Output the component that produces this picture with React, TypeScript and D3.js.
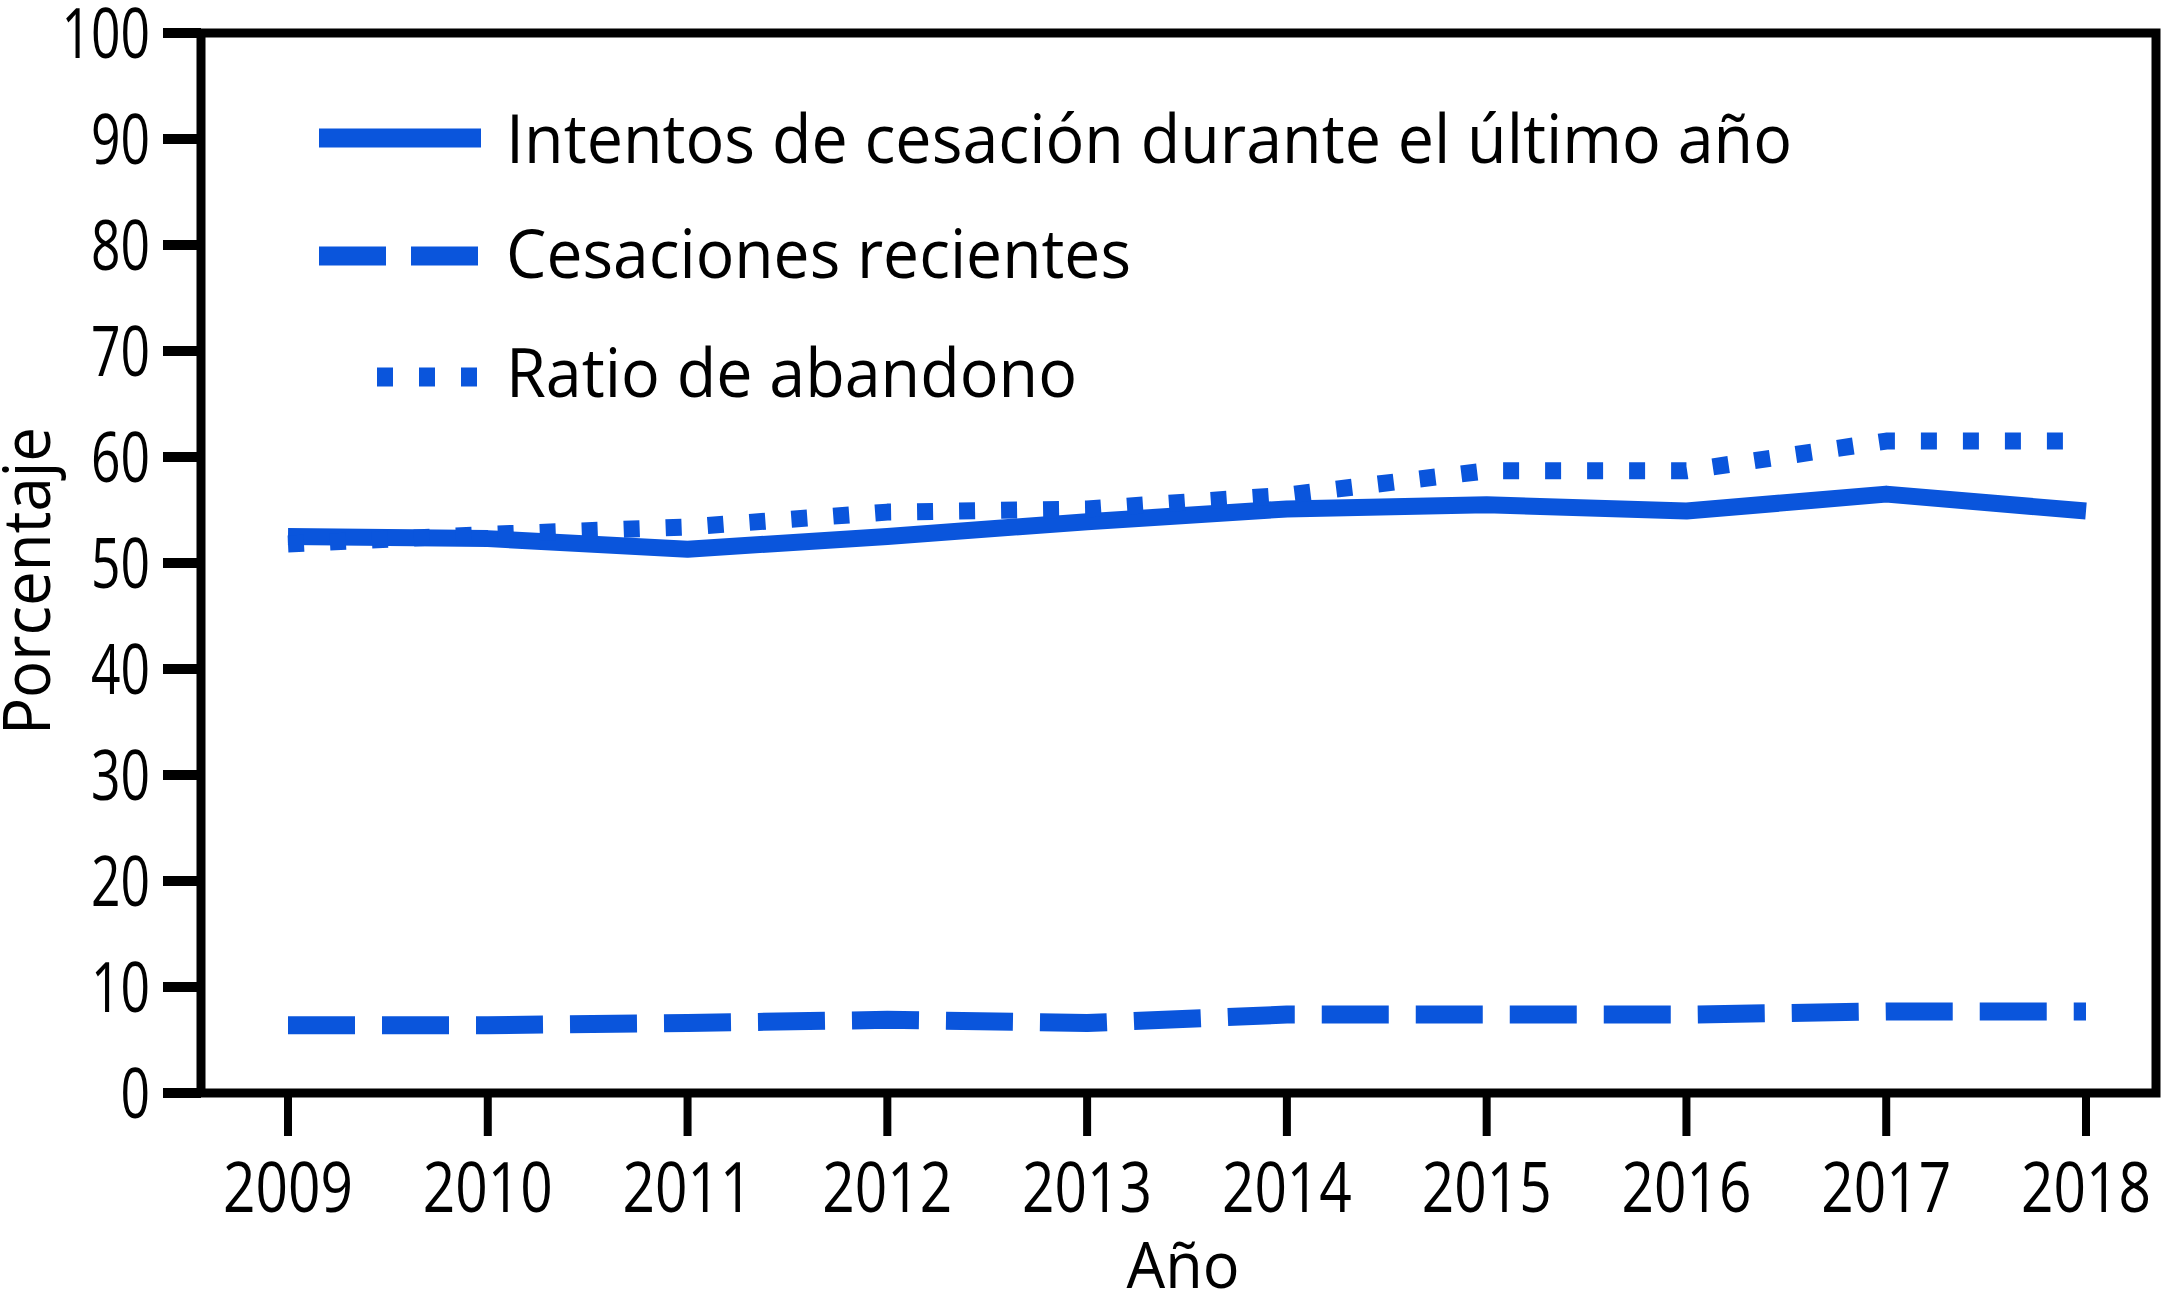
import React from "react";
import * as d3 from "d3";

const years = [2009, 2010, 2011, 2012, 2013, 2014, 2015, 2016, 2017, 2018];
const intentos = [52.5, 52.3, 51.3, 52.5, 53.9, 55.1, 55.5, 54.9, 56.5, 54.9];
const cesaciones = [6.4, 6.4, 6.6, 6.9, 6.6, 7.4, 7.4, 7.4, 7.7, 7.7];
const ratio = [51.8, 52.7, 53.4, 54.8, 55.1, 56.4, 58.7, 58.7, 61.5, 61.5];
const yTicks = [0, 10, 20, 30, 40, 50, 60, 70, 80, 90, 100];
const legendLabels = [
  "Intentos de cesación durante el último año",
  "Cesaciones recientes",
  "Ratio de abandono",
];
const legendWidths = [1286, 625, 571];
const yTitle = "Porcentaje";
const xTitle = "Año";

const W = 2167;
const H = 1295;
const BLUE = "#0a55dc";
const FONT = "'Open Sans', 'Noto Sans', sans-serif";

export default function App() {
  const x = d3.scaleLinear().domain([2009, 2018]).range([288, 2086]);
  const y = d3.scaleLinear().domain([0, 100]).range([1093, 33]);
  const left = 201;
  const right = 2156;
  const line = d3
    .line<number>()
    .x((_, i) => x(years[i]))
    .y((d) => y(d))
    .curve(d3.curveLinear);

  const series = [
    { data: intentos, dash: undefined as string | undefined, width: 17 },
    { data: cesaciones, dash: "67 27", width: 18 },
    { data: ratio, dash: "16 26", width: 17 },
  ];

  const legendRows = [
    { y: 138, x1: 319, x2: 481, dash: undefined as string | undefined, base: 163 },
    { y: 256, x1: 319, x2: 478, dash: "67 25", base: 278 },
    { y: 377, x1: 377, x2: 478, dash: "16 26", base: 397 },
  ];

  return (
    <svg
      width={W}
      height={H}
      style={{ position: "absolute", left: 0, top: 0, background: "#fff" }}
      fontFamily={FONT}
    >
      <rect x={0} y={0} width={W} height={H} fill="#fff" />
      {/* frame */}
      <rect
        x={left}
        y={y(100)}
        width={right - left}
        height={y(0) - y(100)}
        fill="none"
        stroke="#000"
        strokeWidth={9}
      />
      {/* y ticks */}
      {yTicks.map((t) => (
        <g key={"y" + t}>
          <line x1={163} x2={left} y1={y(t)} y2={y(t)} stroke="#000" strokeWidth={10} />
          <text
            x={150}
            y={y(t) + 25}
            textAnchor="end"
            fontSize={70}
            textLength={String(t).length * 29.5}
            lengthAdjust="spacingAndGlyphs"
            fill="#000"
          >
            {t}
          </text>
        </g>
      ))}
      {/* x ticks */}
      {years.map((yr) => (
        <g key={"x" + yr}>
          <line x1={x(yr)} x2={x(yr)} y1={y(0)} y2={1136} stroke="#000" strokeWidth={8} />
          <text
            x={x(yr)}
            y={1212}
            textAnchor="middle"
            fontSize={70}
            textLength={130}
            lengthAdjust="spacingAndGlyphs"
            fill="#000"
          >
            {yr}
          </text>
        </g>
      ))}
      {/* axis titles */}
      <text
        x={1183}
        y={1288}
        textAnchor="middle"
        fontSize={64}
        textLength={113}
        lengthAdjust="spacingAndGlyphs"
        fill="#000"
      >
        {xTitle}
      </text>
      <text
        transform={`translate(50,581) rotate(-90)`}
        textAnchor="middle"
        fontSize={66}
        textLength={308}
        lengthAdjust="spacingAndGlyphs"
        fill="#000"
      >
        {yTitle}
      </text>
      {/* series */}
      {series.map((s, i) => (
        <path
          key={"s" + i}
          d={line(s.data) || ""}
          fill="none"
          stroke={BLUE}
          strokeWidth={s.width}
          strokeDasharray={s.dash}
          strokeLinecap="butt"
          strokeLinejoin="round"
        />
      ))}
      {/* legend */}
      {legendRows.map((r, i) => (
        <g key={"l" + i}>
          <line
            x1={r.x1}
            x2={r.x2}
            y1={r.y}
            y2={r.y}
            stroke={BLUE}
            strokeWidth={19}
            strokeDasharray={r.dash}
          />
          <text
            x={506}
            y={r.base}
            fontSize={68}
            textLength={legendWidths[i]}
            lengthAdjust="spacingAndGlyphs"
            fill="#000"
          >
            {legendLabels[i]}
          </text>
        </g>
      ))}
    </svg>
  );
}
